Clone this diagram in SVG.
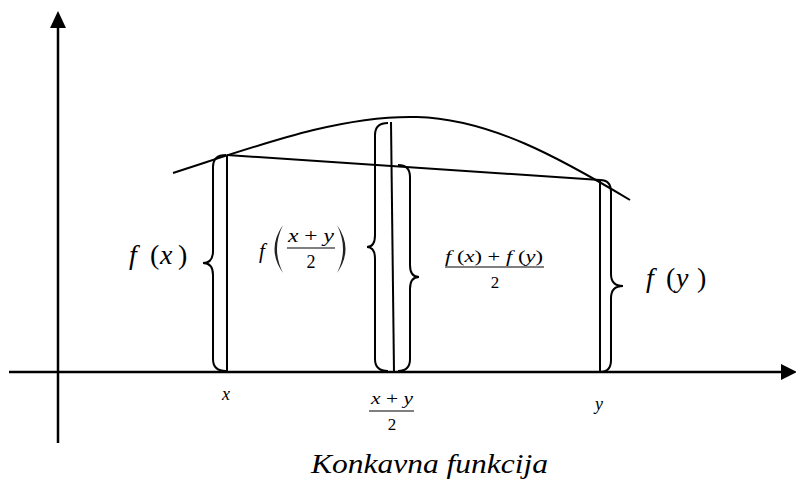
<svg xmlns="http://www.w3.org/2000/svg" width="796" height="489" viewBox="0 0 796 489">
<style>
.ln{fill:none;stroke:#000;stroke-width:2}
.ax{fill:none;stroke:#000;stroke-width:2.5}
.i{font-style:italic}
.bar{stroke:#000;stroke-width:1.2}
.par{fill:#222;stroke:none}
</style>
<g id="axes">
<line class="ax" x1="58" y1="443" x2="58" y2="28"/>
<path d="M50,28 L58,11 L66,28 Z" fill="#000"/>
<line class="ax" x1="9" y1="372" x2="782" y2="372"/>
<path d="M781,364 L797,372 L781,380 Z" fill="#000"/>
</g>
<g id="curve">
<path class="ln" d="M173,173 C260,145 340,115 417,117 C490,119 560,158 630,200"/>
</g>
<g id="connectors">
<line class="ln" x1="227" y1="155" x2="600" y2="180"/>
<line class="ln" x1="227" y1="155" x2="227" y2="372"/>
<line class="ln" x1="391" y1="122" x2="394" y2="372"/>
<line class="ln" x1="600" y1="180" x2="600" y2="373"/>
</g>
<g id="braces">
<path class="ln" d="M226,155 Q213,155 213,167 L213,251 Q213,263 203,263 Q213,263 213,275 L213,359 Q213,371 226,371"/>
<path class="ln" d="M388,123 Q375,123 375,135 L375,235 Q375,247 367,247 Q375,247 375,259 L375,359 Q375,371 388,371"/>
<path class="ln" d="M398,165 Q410,165 410,177 L410,265 Q410,277 419,277 Q410,277 410,289 L410,359 Q410,371 398,371"/>
<path class="ln" d="M600,180 Q611,180 611,192 L611,274 Q611,286 623,286 Q611,286 611,298 L611,360 Q611,372 600,372"/>
</g>
<g id="labels" font-family="Liberation Serif, Times New Roman, Times, DejaVu Serif, serif" fill="#000">
<text font-size="28" y="264"><tspan class="i" x="129">f</tspan><tspan x="150">(</tspan><tspan class="i" x="160">x</tspan><tspan x="178">)</tspan></text>
<g id="fmid">
<text class="i" x="259" y="258" font-size="21">f</text>
<path class="par" d="M283,225 Q266,249 283,273 Q271,249 283,225 Z"/>
<path class="par" d="M337,225 Q354,249 337,273 Q349,249 337,225 Z"/>
<text x="288" y="242" font-size="18" textLength="46" lengthAdjust="spacingAndGlyphs"><tspan class="i">x</tspan> + <tspan class="i">y</tspan></text>
<line class="bar" x1="287" y1="248" x2="335" y2="248"/>
<text x="311" y="268" font-size="18" text-anchor="middle">2</text>
</g>
<g id="favg">
<text x="445" y="262" font-size="17" textLength="98" lengthAdjust="spacingAndGlyphs"><tspan class="i">f</tspan> (<tspan class="i">x</tspan>) + <tspan class="i">f</tspan> (<tspan class="i">y</tspan>)</text>
<line class="bar" x1="445" y1="267" x2="544" y2="267"/>
<text x="495" y="288" font-size="17" text-anchor="middle">2</text>
</g>
<text font-size="28" y="287"><tspan class="i" x="646">f</tspan><tspan x="666">(</tspan><tspan class="i" x="676">y</tspan><tspan x="697">)</tspan></text>
<text class="i" x="226" y="400" font-size="18" text-anchor="middle">x</text>
<g id="xmid">
<text x="371" y="404" font-size="17" textLength="42" lengthAdjust="spacingAndGlyphs"><tspan class="i">x</tspan> + <tspan class="i">y</tspan></text>
<line class="bar" x1="369" y1="411" x2="414" y2="411"/>
<text x="392" y="430" font-size="17" text-anchor="middle">2</text>
</g>
<text class="i" x="599" y="410" font-size="18" text-anchor="middle">y</text>
<text class="i" x="311" y="473" font-size="28" textLength="237" lengthAdjust="spacingAndGlyphs">Konkavna funkcija</text>
</g>
</svg>
